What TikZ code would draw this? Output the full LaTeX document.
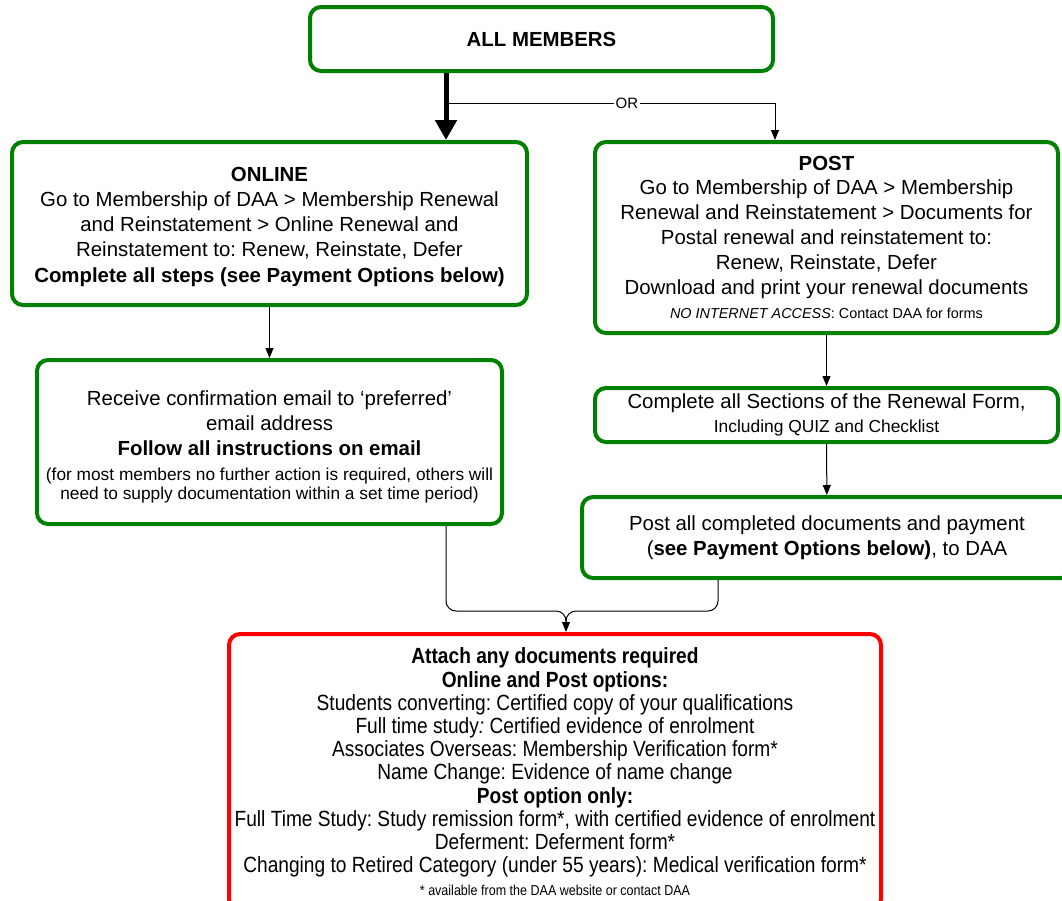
\documentclass[tikz,border=0pt]{standalone}
\usepackage{fontspec}
\setmainfont{Liberation Sans}
\newfontfamily\narrowfont[FakeStretch=0.87]{Liberation Sans}
\usetikzlibrary{arrows.meta}
\definecolor{boxgreen}{RGB}{0,128,0}
\definecolor{boxred}{RGB}{255,0,0}
\newcommand{\smalltxt}{\fontsize{8.65}{10.6}\selectfont}
\newcommand{\tinytxt}{\fontsize{7.2}{9}\selectfont}
\frenchspacing

\begin{document}
\begin{tikzpicture}[x=0.5pt,y=-0.5pt]
\tikzset{>={Triangle[width=4pt,length=5pt]}}
\tikzset{greenbox/.style={draw=boxgreen, line width=2pt, rounded corners=5.5pt, align=center, inner sep=0pt, font=\fontsize{10.2}{12.4}\selectfont}}
\tikzset{redbox/.style={greenbox, draw=boxred, font=\narrowfont\fontsize{11}{11.6}\selectfont}}
\useasboundingbox (0,0) rectangle (1062,901);
\clip (0,0) rectangle (1062,901);
\fill[white] (0,0) rectangle (1062,901);
\node[greenbox, minimum width=231.5pt, minimum height=32pt] (all) at (541.5,39) {\textbf{ALL MEMBERS}};
\node[greenbox, minimum width=257.5pt, minimum height=81.5pt] (online) at (269.5,223.5) {\rule{0pt}{11pt}\textbf{ONLINE}\\Go to Membership of DAA > Membership Renewal\\and Reinstatement > Online Renewal and\\Reinstatement to: Renew, Reinstate, Defer\\[1pt]\textbf{Complete all steps (see Payment Options below)}};
\node[greenbox, minimum width=231.5pt, minimum height=95.5pt] (post) at (826.5,237.5) {\textbf{POST}\\Go to Membership of DAA > Membership\\Renewal and Reinstatement > Documents for\\Postal renewal and reinstatement to:\\Renew, Reinstate, Defer\\Download and print your renewal documents\\{\tinytxt\textit{NO INTERNET ACCESS}: Contact DAA for forms}};
\node[greenbox, minimum width=232.5pt, minimum height=82pt] (recv) at (269.5,442) {\rule{0pt}{12.5pt}Receive confirmation email to `preferred'\\email address\\\textbf{Follow all instructions on email}\\{\smalltxt (for most members no further action is required, others will}\\[-2.6pt]{\smalltxt need to supply documentation within a set time period)}};
\node[greenbox, minimum width=231.5pt, minimum height=27pt] (complete) at (826.5,415) {Complete all Sections of the Renewal Form,\\{\fontsize{8.7}{10}\selectfont Including QUIZ and Checklist}};
\node[greenbox, minimum width=245pt, minimum height=40.5pt] (postall) at (827,537.5) {Post all completed documents and payment\\(\textbf{see Payment Options below)}, to DAA};
\node[redbox, minimum width=326pt, minimum height=138pt] (attach) at (555,772) {\textbf{Attach any documents required}\\\textbf{Online and Post options:}\\Students converting: Certified copy of your qualifications\\Full time study\textit{:} Certified evidence of enrolment\\Associates Overseas: Membership Verification form*\\Name Change: Evidence of name change\\\textbf{Post option only:}\\Full Time Study: Study remission form*, with certified evidence of enrolment\\Deferment: Deferment form*\\Changing to Retired Category (under 55 years): Medical verification form*\\{\tinytxt * available from the DAA website or contact DAA}};
% split below ALL MEMBERS
\coordinate (split) at (446,103);
\draw[line width=2.5pt, -{Triangle[width=10.5pt,length=10pt]}] (split |- all.south) -- (split |- online.north);
\draw[->, line width=0.5pt] (split) -- node[pos=0.55, fill=white, inner sep=1pt, font=\fontsize{7.5}{9}\selectfont] {OR} (split -| all.east) -- (all.east |- post.north);
\draw[->, line width=0.5pt] (online) -- (recv);
\draw[->, line width=0.5pt] (post) -- (complete);
\draw[->, line width=0.5pt] (complete) -- (postall);
% joining into the last box
\coordinate (joinL) at (446,611);
\coordinate (joinR) at (718,611);
\coordinate (merge) at (566,611);
\draw[->, line width=0.5pt, rounded corners=5pt] (joinL |- recv.south) -- (joinL) -- (merge) -- (merge |- attach.north);
\draw[line width=0.5pt, rounded corners=5pt] (joinR |- postall.south) -- (joinR) -- (merge) -- ([yshift=-6pt]merge);
\end{tikzpicture}
\end{document}
